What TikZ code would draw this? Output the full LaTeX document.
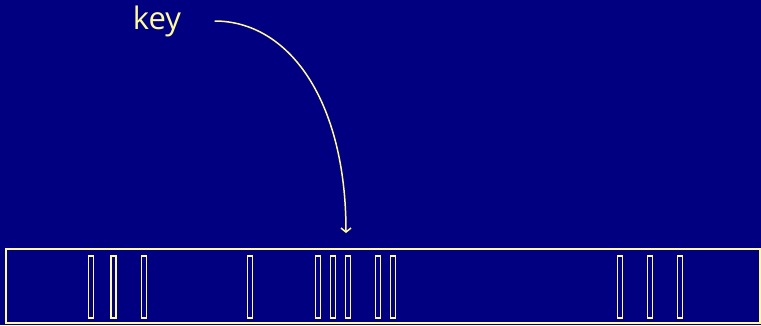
\documentclass[tikz,border=0pt]{standalone}
\usepackage{fontspec}
\setsansfont{Open Sans}
\usetikzlibrary{arrows.meta}
\definecolor{navy}{HTML}{000080}
\definecolor{pale}{HTML}{FFFA9E}

\begin{document}
\begin{tikzpicture}[
  x=1pt, y=-1pt,
  font=\sffamily,
  >={Straight Barb[length=4pt,width=10pt]},
  slot/.style={draw=pale, fill=navy, line width=1.8pt, minimum width=5pt, minimum height=62pt, inner sep=0pt},
  table/.style={draw=pale, line width=2pt, minimum width=754pt, minimum height=74pt, inner sep=0pt},
  lbl/.style={text=pale, font=\sffamily\fontsize{31}{33}\selectfont},
  arr/.style={->, draw=pale, line width=1.5pt}
]
\fill[navy] (0,0) rectangle (761,325);
\useasboundingbox (0,0) rectangle (761,325);

\node[table] (tab) at (383,286) {};
\foreach \x [count=\i] in {91,113.5,144,250,318,333,348,378,393,620,650,680}
  \node[slot] (s\i) at (\x,287) {};

\node[lbl] (key) at (157,21) {key};
\coordinate (hit) at (346,233);
\draw[arr] ([xshift=30pt]key.east) .. controls +(74,0) and +(0,-133) .. (hit);
\end{tikzpicture}
\end{document}
